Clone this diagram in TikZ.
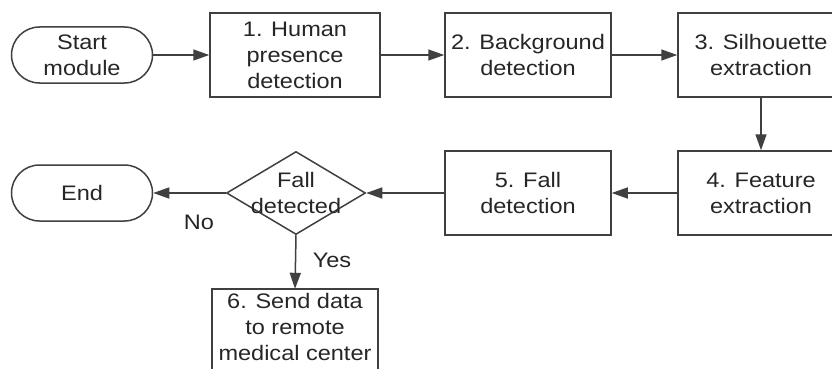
\documentclass[tikz,border=0pt]{standalone}
\usepackage{fontspec}
\setmainfont{Liberation Sans}[FakeStretch=1.12]
\usetikzlibrary{shapes.geometric,arrows.meta}
\definecolor{ln}{gray}{0.25}
\definecolor{tx}{gray}{0.15}
\tikzset{
  every node/.style={font=\fontsize{21}{26}\selectfont, text=tx, align=center},
  proc/.style={draw=ln, line width=1.5pt, rectangle, minimum width=166pt, minimum height=84pt, inner sep=0pt},
  term/.style={draw=ln, line width=1.5pt, rectangle, rounded corners=28pt, minimum width=141pt, minimum height=56pt, inner sep=0pt},
  decision/.style={draw=ln, line width=1.5pt, diamond, minimum width=139pt, minimum height=83pt, inner sep=0pt},
  flow/.style={draw=ln, line width=1.5pt, -{Triangle[length=16pt,width=11pt]}},
  lbl/.style={inner sep=0pt}
}
\begin{document}
\begin{tikzpicture}[x=1pt,y=-1pt]
\useasboundingbox (0,0) rectangle (832,369);
\clip (0,0) rectangle (832,369);
\fill[white] (0,0) rectangle (832,369);
\node[term] (start) at (82,55) {Start\\module};
\node[proc, minimum width=170pt] (b1) at (295,55) {1. Human\\presence\\detection};
\node[proc] (b2) at (528,55) {2. Background\\detection};
\node[proc] (b3) at (761,55) {3. Silhouette\\extraction};
\node[proc] (b4) at (761,193) {4. Feature\\extraction};
\node[proc] (b5) at (528,193) {5. Fall\\detection};
\node[decision] (dia) at (296,193) {};
\node[lbl] (diatext) at (296,193) {Fall\\detected};
\node[term] (end) at (82,193) {End};
\node[minimum width=166pt, minimum height=76pt, inner sep=0pt] (b6) at (295,327) {6. Send data\\to remote\\medical center};
\draw[ln, line width=1.5pt] ([yshift=-30pt]b6.south west) -- (b6.north west) -- (b6.north east) -- ([yshift=-30pt]b6.south east);
\draw[flow] (start) -- (b1);
\draw[flow] (b1) -- (b2);
\draw[flow] (b2) -- (b3);
\draw[flow] (b3) -- (b4);
\draw[flow] (b4) -- (b5);
\draw[flow] (b5) -- (dia.east);
\draw[flow] (dia.west) -- (end);
\draw[flow] (dia.south) -- (b6.north);
\node[lbl] (no) at (199,222) {No};
\node[lbl] (yes) at (332,260) {Yes};
\end{tikzpicture}
\end{document}
